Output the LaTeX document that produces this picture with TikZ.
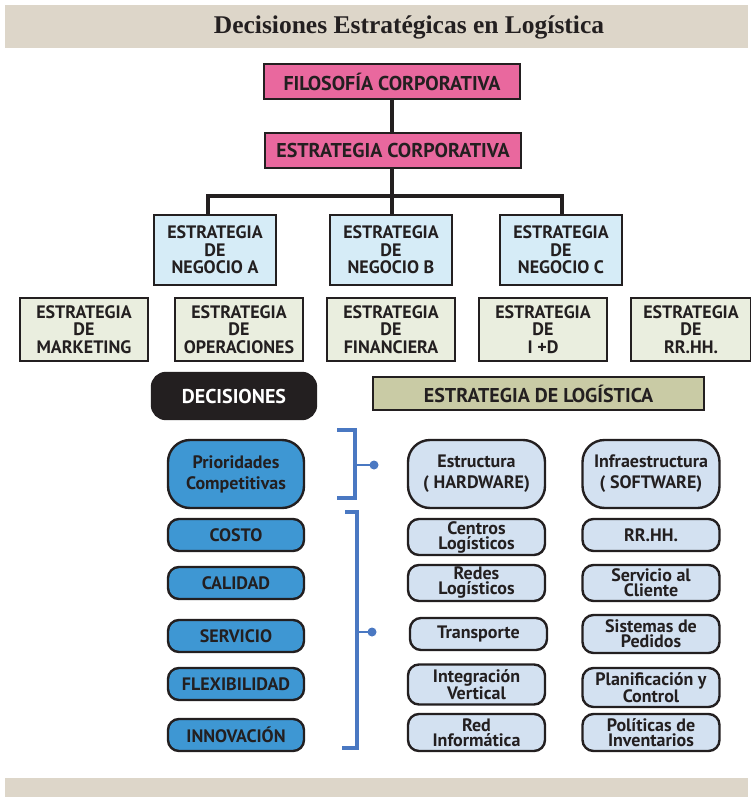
\documentclass[tikz,border=0pt]{standalone}
\usepackage{fontspec}
\setmainfont{PT Sans}
\newfontfamily\titlefont{Liberation Serif}
\definecolor{band}{HTML}{DDD6C9}
\definecolor{pinkbox}{HTML}{E9689E}
\definecolor{negbox}{HTML}{D6ECF7}
\definecolor{funcbox}{HTML}{EAEEDF}
\definecolor{logbox}{HTML}{C9CBA5}
\definecolor{priobox}{HTML}{3E97D3}
\definecolor{lightbox}{HTML}{D3E1F1}
\definecolor{brk}{HTML}{4A78C2}
\definecolor{ink}{HTML}{231F20}
\tikzset{
  box/.style={draw=ink, line width=2.4pt, inner sep=0pt, align=center,
    font=\fontsize{18}{17.5}\selectfont\bfseries, text=ink},
  pinkstyle/.style={box, fill=pinkbox, minimum width=256pt, minimum height=35pt,
    font=\fontsize{20}{22}\selectfont\bfseries},
  negstyle/.style={box, fill=negbox, minimum width=122pt, minimum height=70pt},
  funcstyle/.style={box, fill=funcbox, minimum width=128pt, minimum height=63pt},
  priostyle/.style={box, fill=priobox, rounded corners=11pt, minimum width=136pt,
    minimum height=32pt},
  lightstyle/.style={box, fill=lightbox, rounded corners=11pt, minimum width=137pt,
    font=\fontsize{18}{15}\selectfont\bfseries},
  tree/.style={draw=ink, line width=4pt},
  bracket/.style={draw=brk, line width=4pt},
}
\begin{document}
\begin{tikzpicture}[x=1pt, y=-1pt]
\useasboundingbox (0,0) rectangle (751,797);
% header and footer bands
\fill[band] (5,5) rectangle (748,48);
\fill[band] (5,778) rectangle (748,797);
\node[font=\titlefont\bfseries\fontsize{25.5}{27}\selectfont, text=ink] (title) at (409,27)
  {Decisiones Estratégicas en Logística};

% corporate level
\node[pinkstyle] (filo) at (392,81.5) {FILOSOFÍA CORPORATIVA};
\node[pinkstyle] (corp) at (393,150.5) {ESTRATEGIA CORPORATIVA};

% business strategies
\node[negstyle] (negA) at (215,250) {ESTRATEGIA\\DE\\NEGOCIO A};
\node[negstyle] (negB) at (391,250) {ESTRATEGIA\\DE\\NEGOCIO B};
\node[negstyle] (negC) at (561,250) {ESTRATEGIA\\DE\\NEGOCIO C};

% tree connectors
\coordinate (barL) at (208,196);
\coordinate (barM) at (392,196);
\coordinate (barR) at (562,196);
\draw[tree] (filo.south -| barM) -- (corp.north -| barM);
\draw[tree] (corp.south -| barM) -- (barM);
\draw[tree] ([xshift=-2pt]barL) -- ([xshift=2pt]barR);
\draw[tree] (barL) -- (barL |- negA.north);
\draw[tree] (barM) -- (barM |- negB.north);
\draw[tree] (barR) -- (barR |- negC.north);

% functional strategies
\node[funcstyle] (mkt) at (84,329.5) {ESTRATEGIA\\DE\\MARKETING};
\node[funcstyle] (ope) at (239,329.5) {ESTRATEGIA\\DE\\OPERACIONES};
\node[funcstyle] (fin) at (391,329.5) {ESTRATEGIA\\DE\\FINANCIERA};
\node[funcstyle] (imd) at (543,329.5) {ESTRATEGIA\\DE\\I +D};
\node[funcstyle, minimum width=120pt] (rrhh) at (691,329.5) {ESTRATEGIA\\DE\\RR.HH.};

% section headers
\node[box, fill=ink, text=white, rounded corners=14pt, minimum width=164pt,
  minimum height=46pt, font=\fontsize{20}{22}\selectfont\bfseries] (dec) at (234,396) {DECISIONES};
\node[box, fill=logbox, minimum width=331pt, minimum height=33pt,
  font=\fontsize{20}{22}\selectfont\bfseries] (log) at (538.5,393.5) {ESTRATEGIA DE LOGÍSTICA};

% competitive priorities
\node[priostyle, rounded corners=22pt, minimum height=68pt,
  font=\fontsize{18}{21}\selectfont\bfseries] (prio) at (236,474) {Prioridades\\Competitivas};
\node[priostyle] (costo) at (236,535) {COSTO};
\node[priostyle] (cal) at (236,583) {CALIDAD};
\node[priostyle] (serv) at (236,636) {SERVICIO};
\node[priostyle] (flex) at (236,684) {FLEXIBILIDAD};
\node[priostyle] (inno) at (236,735) {INNOVACIÓN};

% logistics structure and infrastructure
\node[lightstyle, rounded corners=22pt, minimum height=68pt,
  font=\fontsize{18}{21}\selectfont\bfseries] (estr) at (476.5,474) {Estructura\\( HARDWARE)};
\node[lightstyle, rounded corners=22pt, minimum height=68pt,
  font=\fontsize{18}{21}\selectfont\bfseries] (infra) at (651,474) {Infraestructura\\( SOFTWARE)};
\node[lightstyle, minimum height=36pt] (centros) at (476.5,537) {Centros\\Logísticos};
\node[lightstyle, minimum height=32pt] (rrhh2) at (651,535) {RR.HH.};
\node[lightstyle, minimum height=36pt] (redes) at (476.5,583) {Redes\\Logísticos};
\node[lightstyle, minimum height=36pt] (sac) at (651,583) {Servicio al\\Cliente};
\node[lightstyle, minimum height=32pt] (trans) at (478.5,634) {Transporte};
\node[lightstyle, minimum height=38pt] (ped) at (651,634) {Sistemas de\\Pedidos};
\node[lightstyle, minimum height=40pt] (integ) at (476.5,684.5) {Integración\\Vertical};
\node[lightstyle, minimum height=39pt] (plan) at (651,687.5) {Planificación y\\Control};
\node[lightstyle, minimum height=37pt] (redinf) at (476.5,732.5) {Red\\Informática};
\node[lightstyle, minimum height=37pt] (pol) at (651,732.5) {Políticas de\\Inventarios};

% blue brackets
\coordinate (b1a) at (337,430);
\coordinate (b1b) at (337,498);
\coordinate (b1m) at (355,465);
\coordinate (b1d) at (374,465);
\draw[bracket] (b1a) -- (355,430) -- (355,498) -- (b1b);
\draw[bracket, line width=2.5pt] (b1m) -- (b1d);
\fill[brk] (b1d) circle (4.5pt);
\coordinate (b2a) at (345,512);
\coordinate (b2b) at (342,748);
\coordinate (b2m) at (357,632);
\coordinate (b2d) at (372,632);
\draw[bracket] (b2a) -- (357,512) -- (357,748) -- (b2b);
\draw[bracket, line width=2.5pt] (b2m) -- (b2d);
\fill[brk] (b2d) circle (4.5pt);
\end{tikzpicture}
\end{document}
